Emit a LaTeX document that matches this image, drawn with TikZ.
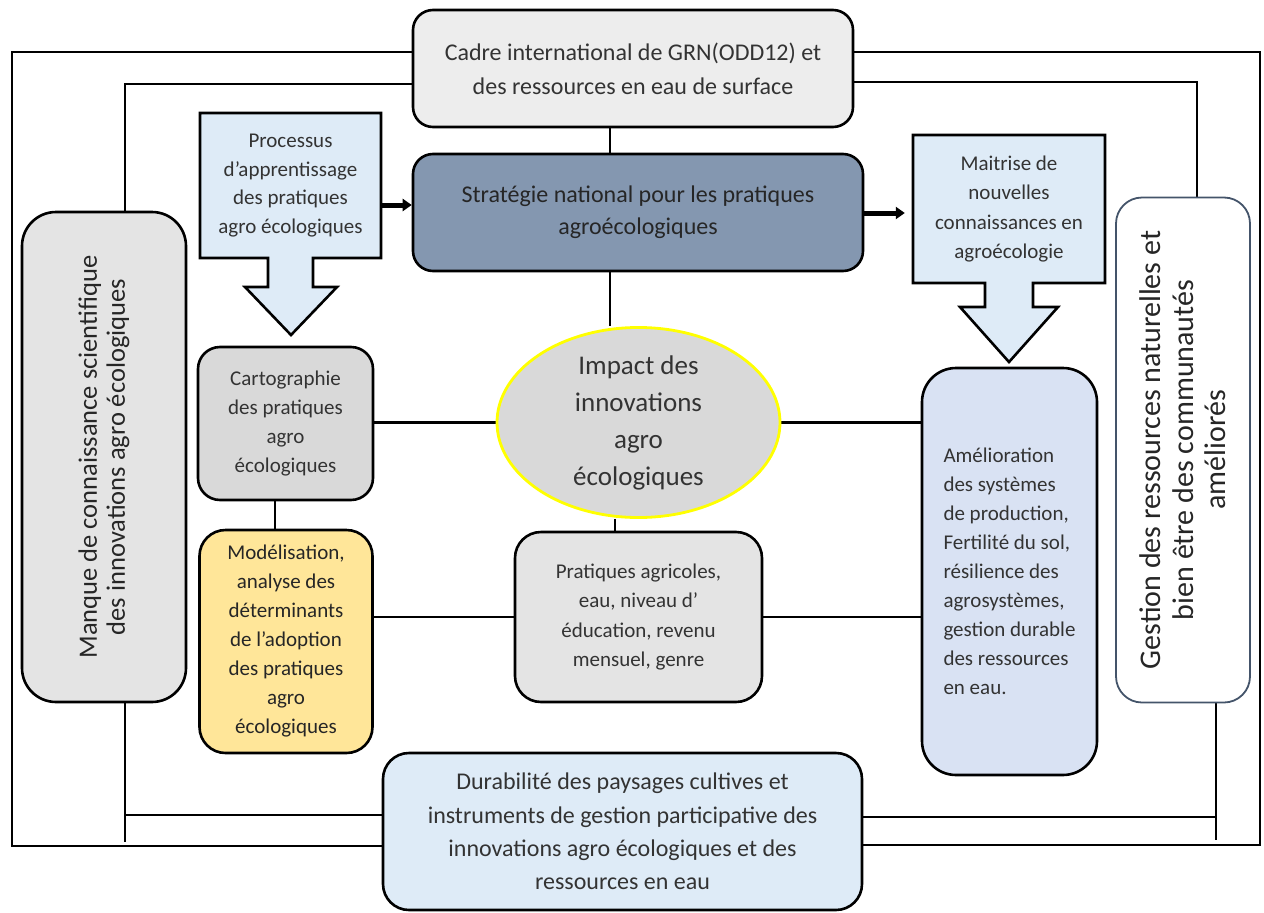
\documentclass[tikz,border=0pt]{standalone}
\usepackage{fontspec}
\setmainfont{Carlito}
\usetikzlibrary{shapes.geometric,arrows.meta,backgrounds,calc}
\definecolor{cadreF}{HTML}{EDEDED}
\definecolor{stratF}{HTML}{8497B0}
\definecolor{blueF}{HTML}{DEEBF7}
\definecolor{greyF}{HTML}{E4E4E4}
\definecolor{cartoF}{HTML}{D9D9D9}
\definecolor{yelF}{HTML}{FFE699}
\definecolor{ameF}{HTML}{D9E2F3}
\definecolor{gestD}{HTML}{44546A}
\definecolor{txt}{HTML}{333333}
\definecolor{ellD}{HTML}{FFFF00}
\newcommand\fsz[2]{\fontsize{#1}{#2}\selectfont}
\tikzset{
  box/.style={draw=black, line width=2.6pt, rounded corners=20pt, align=center,
    inner sep=0pt, text=txt, font=\fsz{21}{29}},
  txtonly/.style={align=center, inner sep=0pt, text=txt, font=\fsz{21}{29.5}},
  callout/.style={draw=black, line width=2.6pt, fill=blueF, line join=miter},
  link/.style={draw=black, line width=2.6pt},
  frame/.style={draw=black, line width=2.5pt, line join=miter},
  fat/.style={draw=black, line width=5pt, -{Triangle[length=9pt,width=12pt]}}
}
\begin{document}
\begin{tikzpicture}[x=1pt,y=-1pt]
\useasboundingbox (0,0) rectangle (1264,913);
% helper coordinates
\coordinate (oTL) at (12,52);
\coordinate (oBL) at (12,846);
\coordinate (oTR) at (1260,52);
\coordinate (oBR) at (1260,845);
\coordinate (iTL) at (125,84);
\coordinate (iBLa) at (125,815);
\coordinate (iBLb) at (125,842);
\coordinate (iTR) at (1197,82);
\coordinate (iBR) at (1216,817);
\coordinate (iBRb) at (1216,840);
\coordinate (x610) at (610,0);
\coordinate (x615) at (615,0);
\coordinate (x275) at (275,0);
\coordinate (ya) at (0,205);
\coordinate (yb) at (0,213);

% callout arrows
\draw[callout] (200,113) -- (381,113) -- (381,258) -- (313,258) -- (313,287) -- (337,287)
  -- (291,335) -- (245,287) -- (268,287) -- (268,258) -- (200,258) -- cycle;
\draw[callout] (913,135) -- (1105,135) -- (1105,283) -- (1033,283) -- (1033,307) -- (1058,307)
  -- (1009,362) -- (960,307) -- (985,307) -- (985,283) -- (913,283) -- cycle;

\node[txtonly, minimum width=181pt, minimum height=145pt, font=\fsz{21}{28.8}] (proc) at (290.5,185.5)
  {Processus\\d’apprentissage\\des pratiques\\agro écologiques};
\node[txtonly, minimum width=192pt, minimum height=148pt] (mait) at (1009,209)
  {Maitrise de\\nouvelles\\connaissances en\\agroécologie};

% boxes
\node[box, fill=cadreF, minimum width=440pt, minimum height=117pt, font=\fsz{24}{34}] (cadre) at (633,68.5)
  {Cadre international de GRN(ODD12) et\\des ressources  en eau de surface};
\node[box, fill=stratF, minimum width=450pt, minimum height=117pt, font=\fsz{24}{32}, text=black!85] (strat) at (638,212.5)
  {Stratégie national pour les pratiques\\agroécologiques};
\node[box, fill=greyF, rounded corners=34pt, minimum width=164pt, minimum height=490pt] (manque) at (104,457) {};
\node[rotate=90, align=center, inner sep=0pt, text=black!85, font=\fsz{26.5}{28}] (manquetxt) at (manque.center)
  {Manque de connaissance  scientifique\\des innovations  agro  écologiques};
\node[box, fill=cartoF, rounded corners=22pt, minimum width=175pt, minimum height=153pt] (carto) at (285.5,423.5)
  {Cartographie\\des pratiques\\agro\\écologiques};
\node[box, fill=yelF, rounded corners=26pt, minimum width=173pt, minimum height=223pt, text=black!85] (model) at (286,641.5)
  {Modélisation,\\analyse des\\déterminants\\de l’adoption\\des pratiques\\agro\\écologiques};
\node[ellipse, draw=ellD, line width=2.8pt, fill=cartoF, inner sep=0pt, minimum width=283pt, minimum height=189pt,
  align=center, text=txt, font=\fsz{27}{37}] (ell) at (638.5,422.5)
  {Impact des\\innovations\\agro\\écologiques};
\node[box, fill=greyF, rounded corners=26pt, minimum width=247pt, minimum height=170pt, font=\fsz{21}{29.5}] (prat) at (638.5,617)
  {Pratiques agricoles,\\eau, niveau d’\\éducation, revenu\\mensuel, genre};
\node[box, fill=ameF, rounded corners=34pt, minimum width=175pt, minimum height=407pt, align=left] (amelio) at (1009.5,571.5)
  {Amélioration\\des systèmes\\de production,\\Fertilité du sol,\\résilience des\\agrosystèmes,\\gestion durable\\des ressources\\en eau.};
\node[box, draw=gestD, line width=1.8pt, fill=white, rounded corners=26pt, minimum width=134pt, minimum height=505pt] (gest) at (1183,450) {};
\node[rotate=90, align=center, inner sep=0pt, text=black!85, font=\fsz{30}{32.5}] (gesttxt) at (gest.center)
  {Gestion des ressources naturelles et\\bien être des communautés\\améliorés};
\node[box, fill=blueF, rounded corners=26pt, minimum width=479pt, minimum height=157pt, font=\fsz{24}{33.3}] (dur) at (622.5,831.5)
  {Durabilité des paysages cultives et\\instruments de gestion participative des\\innovations agro écologiques et des\\ressources  en eau};

\begin{scope}[on background layer]
% frame
\draw[frame] (cadre.west |- oTL) -- (oTL) -- (oBL) -- (dur.west |- oBL);
\draw[frame] (cadre.east |- oTR) -- (oTR) -- (oBR) -- (dur.east |- oBR);
\draw[frame] (cadre.west |- iTL) -- (iTL) -- (manque.north -| iTL);
\draw[frame] (manque.south -| iTL) -- (iBLb);
\draw[frame] (iBLa) -- (dur.west |- iBLa);
\draw[frame] (cadre.east |- iTR) -- (iTR) -- (gest.north -| iTR);
\draw[frame] (gest.south -| iBR) -- (iBRb);
\draw[frame] (dur.east |- iBR) -- (iBR);
% links
\draw[link] (cadre.south -| x610) -- (strat.north -| x610);
\draw[link] (strat.south -| x610) -- (ell.north -| x610);
\draw[link] (carto.east |- ell.west) -- (ell.west);
\draw[link] (ell.east) -- (amelio.west |- ell.east);
\draw[link] (carto.south -| x275) -- (model.north -| x275);
\draw[link] (ell.south -| x615) -- (prat.north -| x615);
\draw[link] (model.east |- prat.west) -- (prat.west);
\draw[link] (prat.east) -- (amelio.west |- prat.east);
\end{scope}
% thick arrows
\draw[fat] (proc.east |- ya) -- (strat.west |- ya);
\draw[fat, shorten >=8pt] (strat.east |- yb) -- (mait.west |- yb);
\end{tikzpicture}
\end{document}
